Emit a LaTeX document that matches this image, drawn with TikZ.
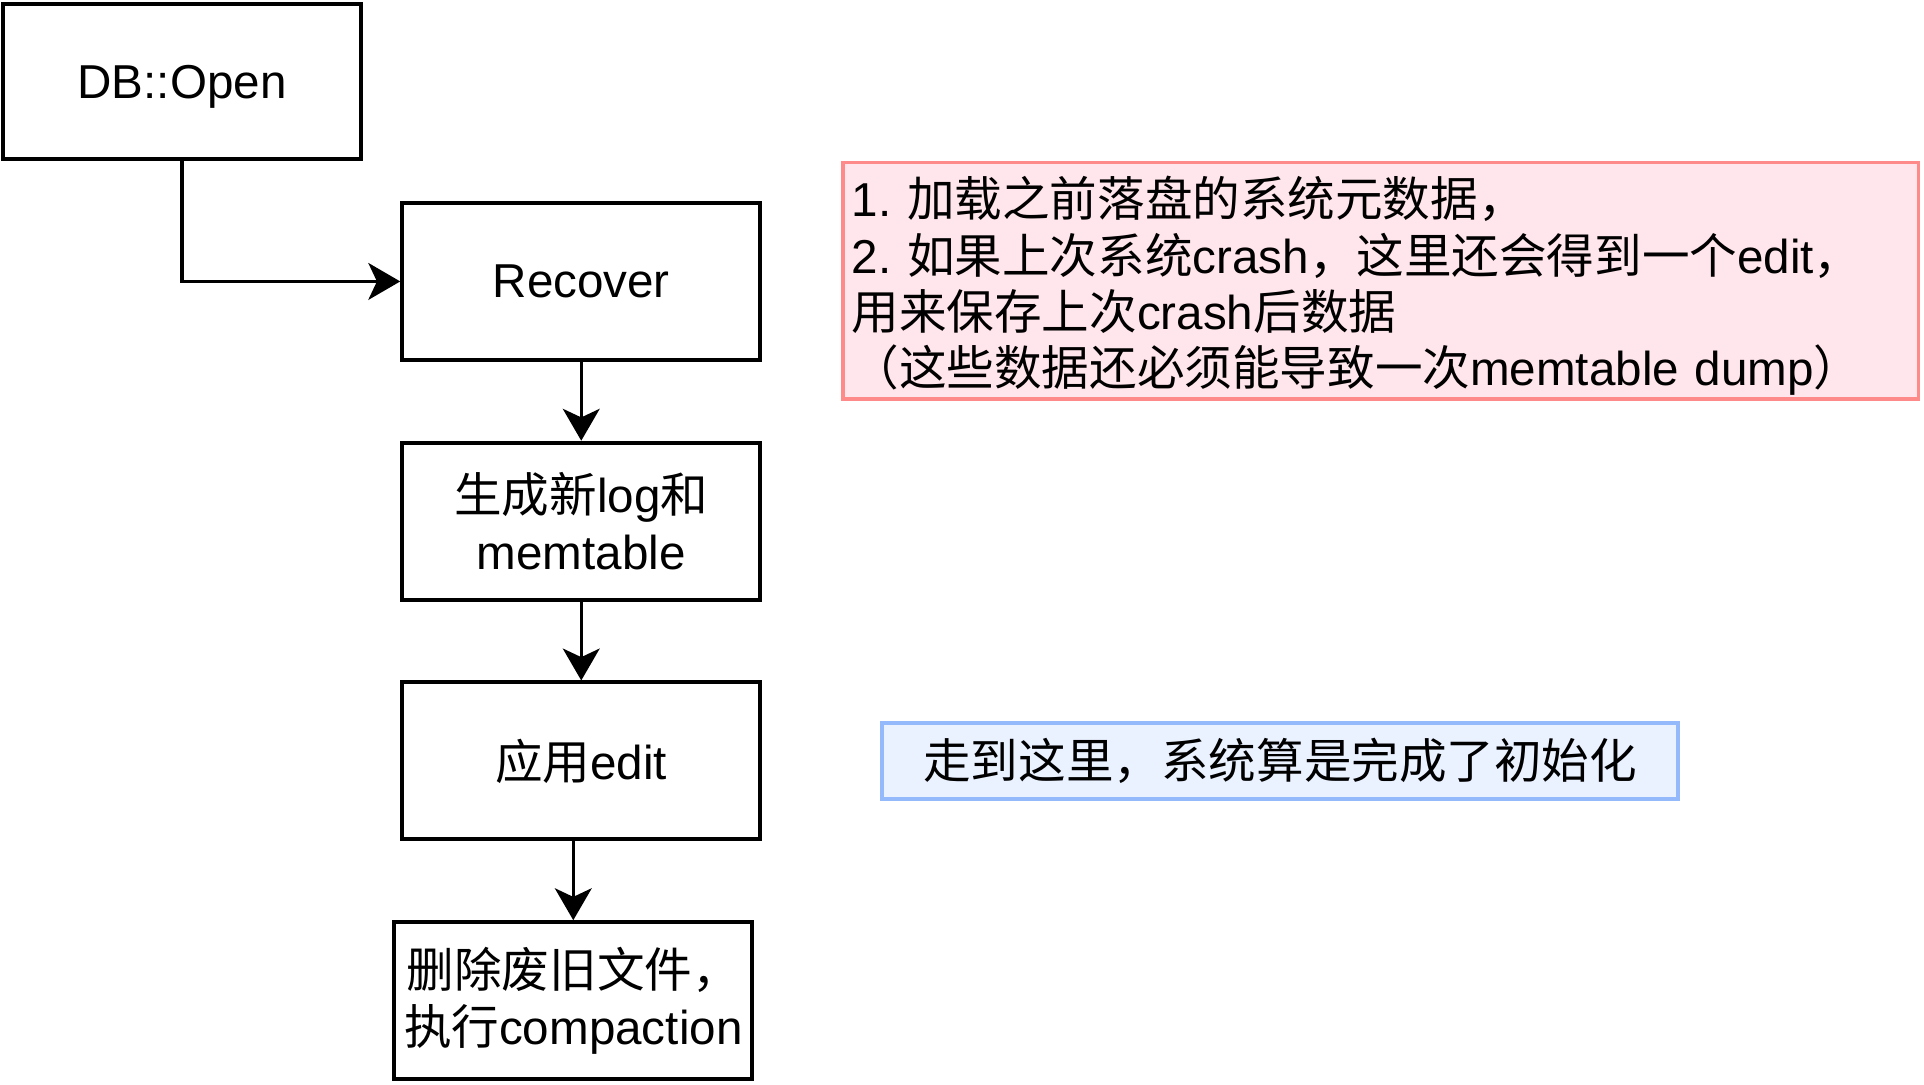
\documentclass[tikz,border=0pt]{standalone}
\usepackage{fontspec}
\setmainfont{Liberation Sans}
\newfontfamily\cjk{Noto Sans CJK SC}
\newcommand{\zh}[1]{{\cjk #1}}
\usetikzlibrary{arrows.meta, positioning}
\definecolor{notered}{HTML}{FF8A8A}
\definecolor{notepink}{HTML}{FFE6EC}
\definecolor{noteblue}{HTML}{94BAFC}
\definecolor{noteice}{HTML}{EAF1FF}
\frenchspacing

\begin{document}
\begin{tikzpicture}[x=0.5pt, y=-0.5pt,
  font=\fontsize{19.4pt}{23pt}\selectfont,
  stepbox/.style={draw, line width=1.6pt, minimum width=146pt, minimum height=64pt, align=center, inner sep=2pt},
  flow/.style={-{Stealth[length=13pt,width=15pt,inset=3.5pt]}, line width=1.35pt}]
\useasboundingbox (0,0) rectangle (1569,884);
% steps
\node[stepbox, minimum height=63pt, text depth=0pt] (open) at (148.5,66.5) {DB::Open};
\node[stepbox] (recover) at (474,229.5) {Recover};
\node[stepbox] (newlog) at (474,425) {\zh{生成新}log\zh{和}\\memtable};
\node[stepbox] (apply) at (474,620.5) {\zh{应用}edit};
\node[stepbox] (cleanup) at (467.5,816) {\zh{删除废旧文件，}\\\zh{执行}compaction};
% notes
\node[draw=notered, fill=notepink, line width=1.5pt, minimum height=96.5pt, text width=431.5pt, inner xsep=3.5pt, inner ysep=0pt, align=left] (recnote) at (1126,229)
  {\rule{0pt}{20.8pt}1. \zh{加载之前落盘的系统元数据，}\\
   2. \zh{如果上次系统}crash\zh{，这里还会得到一个}edit\zh{，}\\
   \zh{用来保存上次}crash\zh{后数据}\\
   \zh{（这些数据还必须能导致一次}memtable dump\zh{）}};
\node[draw=noteblue, fill=noteice, line width=1.5pt, minimum width=324.5pt, minimum height=31pt] (initnote) at (1044,620.5)
  {\zh{走到这里，系统算是完成了初始化}};
% arrows
\draw[flow] (open.south) |- (recover.west);
\draw[flow] (recover) -- (newlog);
\draw[flow] (newlog) -- (apply);
\draw[flow] (apply.south -| cleanup.north) -- (cleanup.north);
\end{tikzpicture}
\end{document}
